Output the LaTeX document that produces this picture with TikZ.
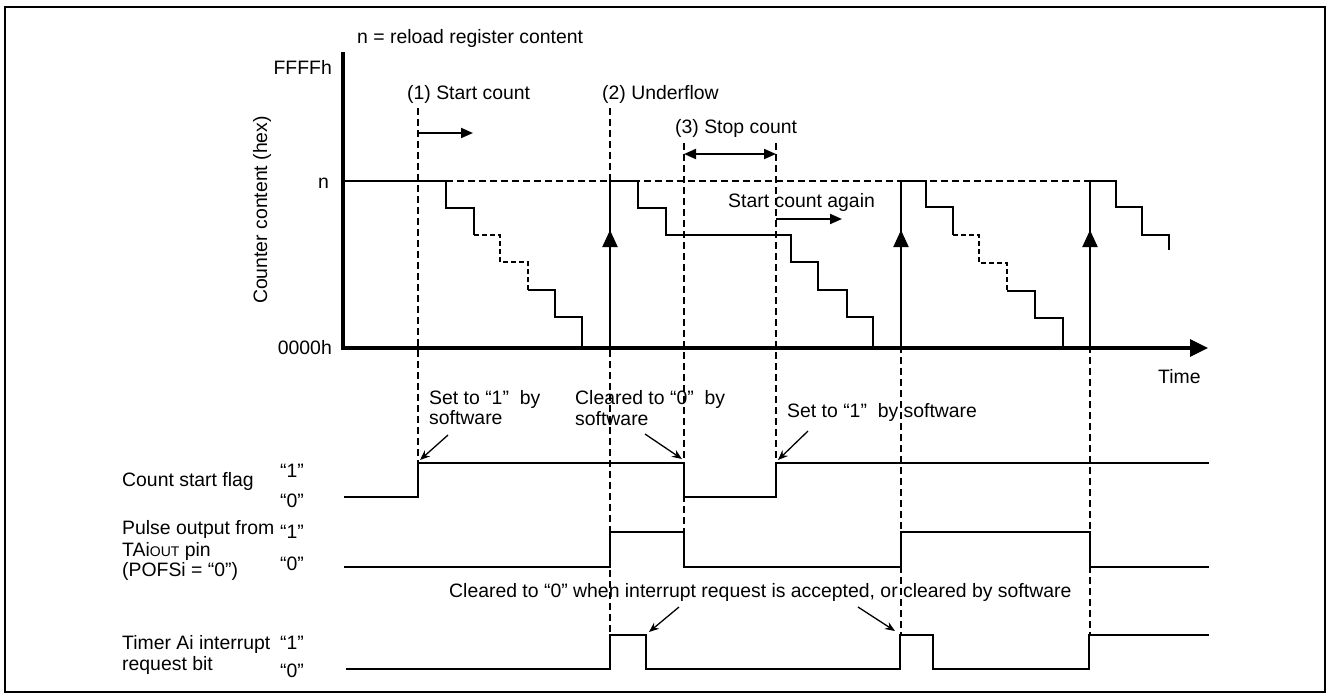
\documentclass[tikz,border=0pt]{standalone}
\usepackage{fontspec}
\setmainfont{Liberation Sans}
\usetikzlibrary{arrows.meta}
\begin{document}
\begin{tikzpicture}[x=1pt,y=-1pt,
  lbl/.style={inner sep=0pt,anchor=base west,font=\fontsize{19.4}{21}\selectfont},
  lvl/.style={inner sep=0pt,anchor=base east,font=\fontsize{19.4}{21}\selectfont},
  sig/.style={line width=2pt,line join=miter},
  dsh/.style={line width=1.4pt,dash pattern=on 7pt off 4pt},
  sdash/.style={line width=2pt,dash pattern=on 5pt off 3pt},
  axis/.style={line width=3.2pt,-{Triangle[length=18pt,width=17pt]}},
  uparr/.style={line width=2pt,-{Triangle[length=17pt,width=15pt]}},
  harr/.style={line width=2pt,-{Triangle[length=12pt,width=10pt]}},
  darr/.style={line width=2pt,{Triangle[length=12pt,width=10pt]}-{Triangle[length=12pt,width=10pt]}},
  note/.style={line width=1.3pt,-{Stealth[length=10pt,width=8pt]}}
]
\useasboundingbox (0,0) rectangle (1328,697);
\draw[line width=2pt] (5,7) rectangle (1325,692);

% dashed guide lines
\draw[dsh] (446,181) -- (1090,181);
\coordinate (d1t) at (418,108); \coordinate (d1b) at (418,463);
\coordinate (d2t) at (610,108); \coordinate (d2b) at (610,635);
\coordinate (d3t) at (684,143); \coordinate (d3b) at (684,532);
\coordinate (d4t) at (776,143); \coordinate (d4b) at (776,463);
\coordinate (d5t) at (901,181); \coordinate (d5b) at (901,635);
\coordinate (d6t) at (1090,181); \coordinate (d6b) at (1090,635);
\draw[dsh] (d1t) -- (d1b);
\draw[dsh] (d2t) -- (d2b);
\draw[dsh] (d3t) -- (d3b);
\draw[dsh] (d4t) -- (d4b);
\draw[dsh] (d5t) -- (d5b);
\draw[dsh] (d6t) -- (d6b);

% axes
\coordinate (ytop) at (343,52);
\coordinate (orig) at (343,348);
\coordinate (xend) at (1208,348);
\draw[axis,line join=miter] (ytop) -- (orig) -- (xend);

% staircase 1
\draw[sig] (343,181) -- (446,181) -- (446,208) -- (474,208) -- (474,235);
\draw[sdash] (474,235) -- (500,235) -- (500,262) -- (528,262) -- (528,290);
\draw[sig] (528,290) -- (555,290) -- (555,317) -- (582,317) -- (582,348);
% underflow arrows
\draw[uparr] (610,348) -- (610,230); \draw[sig] (610,232) -- (610,181);
\draw[uparr] (901,348) -- (901,230); \draw[sig] (901,232) -- (901,181);
\draw[uparr] (1090,348) -- (1090,230); \draw[sig] (1090,232) -- (1090,181);
% staircase 2
\draw[sig] (610,181) -- (638,181) -- (638,208) -- (666,208) -- (666,235) -- (791,235) -- (791,262) -- (818,262) -- (818,290) -- (847,290) -- (847,317) -- (873,317) -- (873,348);
% staircase 3
\draw[sig] (901,181) -- (926,181) -- (926,207) -- (953,207) -- (953,235);
\draw[sdash] (953,235) -- (979,235) -- (979,263) -- (1007,263) -- (1007,291);
\draw[sig] (1007,291) -- (1035,291) -- (1035,318) -- (1063,318) -- (1063,348);
% staircase 4
\draw[sig] (1090,181) -- (1116,181) -- (1116,207) -- (1142,207) -- (1142,235) -- (1169,235) -- (1169,250);

% top arrows
\draw[harr] (418,133) -- (473,133);
\draw[darr] (684,154) -- (776,154);
\draw[harr] (776,219) -- (842,219);

% axis labels
\node[lbl] (nrel) at (357,43) {n = reload register content};
\node[lvl] (ffff) at (332,74) {FFFFh};
\node[lvl] (nlab) at (329,188) {n};
\node[lvl] (zero) at (332,354) {0000h};
\node[inner sep=0pt,anchor=base,rotate=90,font=\fontsize{19.4}{21}\selectfont] (ylab) at (267,210) {Counter content (hex)};
\node[lbl] (time) at (1158,383) {Time};

\node[lbl] (s1) at (407,99) {(1) Start count};
\node[lbl] (s2) at (602,99) {(2) Underflow};
\node[lbl] (s3) at (675,133) {(3) Stop count};
\node[lbl] (s4) at (728,207) {Start count again};

% signals
\draw[sig] (344,497) -- (418,497) -- (418,463) -- (684,463) -- (684,497) -- (776,497) -- (776,463) -- (1209,463);
\draw[sig] (344,567) -- (610,567) -- (610,532) -- (684,532) -- (684,567) -- (901,567) -- (901,532) -- (1090,532) -- (1090,567) -- (1209,567);
\draw[sig] (346,669) -- (610,669) -- (610,635) -- (646,635) -- (646,669) -- (900,669) -- (900,635) -- (933,635) -- (933,669) -- (1089,669) -- (1089,635) -- (1209,635);

% signal labels
\node[lbl] (csf) at (122,486) {Count start flag};
\node[lvl] (csf1) at (304,477) {“1”};
\node[lvl] (csf0) at (304,507) {“0”};
\node[lbl] (po1) at (122,534) {Pulse output from};
\node[lbl] (po2) at (122,556) {TAi{\fontsize{14}{16}\selectfont OUT} pin};
\node[lbl] (po3) at (122,576) {(POFSi = “0”)};
\node[lvl] (pol1) at (304,538) {“1”};
\node[lvl] (pol0) at (304,570) {“0”};
\node[lbl] (ti1) at (122,649) {Timer Ai interrupt};
\node[lbl] (ti2) at (122,670) {request bit};
\node[lvl] (til1) at (304,649) {“1”};
\node[lvl] (til0) at (304,677) {“0”};

% annotations
\node[lbl] (a1a) at (429,404) {Set to “1”\ \ by};
\node[lbl] (a1b) at (429,424) {software};
\node[lbl] (a2a) at (575,404) {Cleared to “0”\ \ by};
\node[lbl] (a2b) at (575,425) {software};
\node[lbl] (a3) at (787,417) {Set to “1”\ \ by software};
\node[lbl] (a4) at (449,597) {Cleared to “0” when interrupt request is accepted, or cleared by software};

\coordinate (n1s) at (448,435); \coordinate (n1e) at (420,460);
\coordinate (n2s) at (645,434); \coordinate (n2e) at (682,459);
\coordinate (n3s) at (808,431); \coordinate (n3e) at (778,460);
\coordinate (n4s) at (679,607); \coordinate (n4e) at (649,632);
\coordinate (n5s) at (858,607); \coordinate (n5e) at (895,631);
\draw[note] (n1s) -- (n1e);
\draw[note] (n2s) -- (n2e);
\draw[note] (n3s) -- (n3e);
\draw[note] (n4s) -- (n4e);
\draw[note] (n5s) -- (n5e);
\end{tikzpicture}
\end{document}
